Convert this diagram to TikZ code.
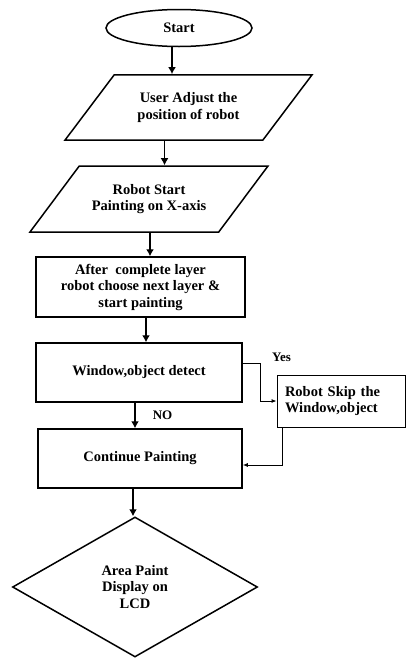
\documentclass[tikz,border=0pt]{standalone}
\usepackage{fontspec}
\setmainfont{Liberation Serif}
\usepackage{tikz}
\usetikzlibrary{shapes.geometric, arrows.meta, positioning}

\begin{document}
\begin{tikzpicture}[x=1pt, y=-1pt,
    every node/.style={font=\bfseries\fontsize{14.5}{16.5}\selectfont},
    box/.style={draw, line width=1.5pt, align=center, inner sep=0pt},
    para/.style={box, trapezium, trapezium left angle=53, trapezium right angle=127, trapezium stretches body, inner ysep=17.8},
    tag/.style={font=\bfseries\fontsize{13}{15}\selectfont, inner sep=1pt},
    flow/.style={line width=1.6pt, -{Latex[length=7pt,width=8pt]}},
    side/.style={line width=0.9pt, -{Latex[length=5pt,width=4pt]}}]
    \useasboundingbox (0,0) rectangle (406,667);
    \node[box, ellipse, minimum width=146, minimum height=37] (start) at (179,28) {Start};
    \node[para, minimum width=247, minimum height=65] (adjust) at (188.5,107.5) {User Adjust the\\position of robot};
    \node[para, minimum width=238, minimum height=66] (xaxis) at (149,199) {Robot Start\\Painting on X-axis};
    \node[box, minimum width=209, minimum height=60] (layer) at (140.5,287) {After~ complete layer\\robot choose next layer \&\\start painting};
    \node[box, minimum width=206, minimum height=59] (detect) at (139,372.5) {Window,object detect};
    \node[box, minimum width=204, minimum height=59] (cont) at (140,458.5) {Continue Painting};
    \node[draw, line width=0.9pt, align=left, text width=112, inner xsep=8, inner ysep=0, minimum height=52] (skip) at (341,401) {Robot Skip the\\Window,object};
    \node[box, diamond, aspect=1.75, minimum width=245, minimum height=140] (lcd) at (135,587) {Area Paint\\Display on\\LCD};
    \draw[flow] ([xshift=-7]start.south) -- ([xshift=-7]start.south |- adjust.north);
    \draw[flow] ([xshift=-24]adjust.south) -- ([xshift=-24]adjust.south |- xaxis.north);
    \draw[flow] ([xshift=1]xaxis.south) -- ([xshift=1]xaxis.south |- layer.north);
    \draw[flow] ([xshift=5.5]layer.south) -- ([xshift=5.5]layer.south |- detect.north);
    \draw[flow] ([xshift=-4]detect.south) -- node[tag, right, xshift=16] (no) {NO} ([xshift=-4]detect.south |- cont.north);
    \draw[flow] ([xshift=-7]cont.south) -- ([xshift=-7]cont.south |- lcd.north);
    \draw[side] ([yshift=9.5]detect.east) -- ++(18,0) node[tag, anchor=south west, xshift=10] (yes) {Yes} |- (skip.west);
    \draw[side] ([xshift=-59]skip.south) |- ([yshift=-6.5]cont.east);
\end{tikzpicture}
\end{document}
